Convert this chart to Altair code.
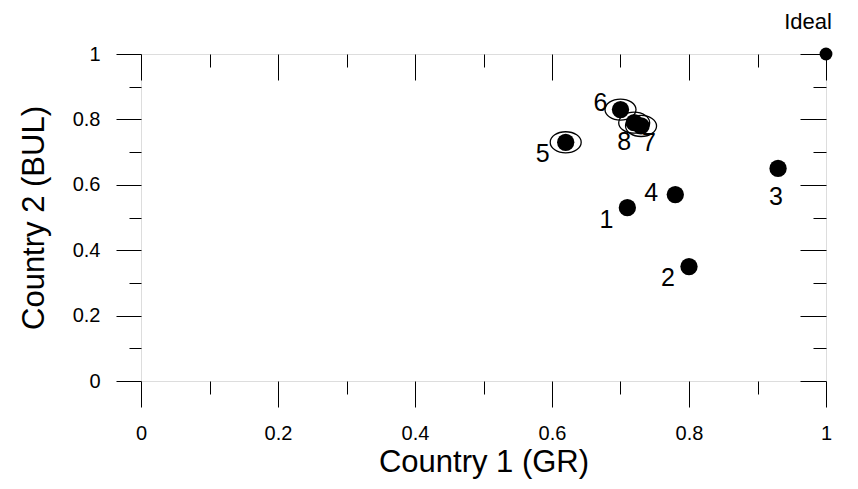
import altair as alt
import pandas as pd

# ---- data ----
labels = ["1", "2", "3", "4", "5", "6", "7", "8"]
country1_gr = [0.71, 0.80, 0.93, 0.78, 0.62, 0.70, 0.73, 0.72]
country2_bul = [0.53, 0.35, 0.65, 0.57, 0.73, 0.83, 0.78, 0.79]
with_ellipse = ["5", "6", "7", "8"]
ideal_label = ["Ideal"]
ideal_gr = [1.0]
ideal_bul = [1.0]
major_ticks = [0.0, 0.2, 0.4, 0.6, 0.8, 1.0]
minor_ticks = [0.1, 0.3, 0.5, 0.7, 0.9]
tick_labels = ["0", "0.2", "0.4", "0.6", "0.8", "1"]

df = pd.DataFrame({"label": labels, "gr": country1_gr, "bul": country2_bul})
df_ideal = pd.DataFrame({"label": ideal_label, "gr": ideal_gr, "bul": ideal_bul})

# ---- styling ----
FONT = "Liberation Sans"
ELLIPSE = "M -1 0 A 1 0.68 0 1 1 1 0 A 1 0.68 0 1 1 -1 0 Z"
label_offsets = {  # (dx, dy) of each point label, in pixels
    "1": (-21, 12), "2": (-21, 11), "3": (-2, 29), "4": (-24, -2),
    "5": (-23, 12), "6": (-20, -7), "7": (8, 17), "8": (-10, 19),
}
label_expr = "[" + ",".join(f"'{t}'" for t in tick_labels) + "][round(datum.value*5)]"

xs = alt.Scale(domain=[0, 1], nice=False, zero=False)
ys = alt.Scale(domain=[0, 1], nice=False, zero=False)


def ax(orient, values, size, offset=0, with_labels=False, title=None, **kw):
    opts = dict(
        orient=orient, values=values, tickSize=size, offset=offset,
        domain=False, grid=False, ticks=True, tickColor="black", tickWidth=1,
        labels=with_labels, title=title,
    )
    if with_labels:
        opts.update(
            labelFont=FONT, labelFontSize=20, labelColor="black",
            labelPadding=16, labelExpr=label_expr, labelFlush=False,
            labelOverlap=False,
        )
    if title is not None:
        opts.update(titleFont=FONT, titleFontSize=31, titleFontWeight="normal",
                    titleColor="black")
    opts.update(kw)
    return alt.Axis(**opts)


bottom_major = ax("bottom", major_ticks, 26, with_labels=True,
                  title="Country 1 (GR)", titleY=81, titleBaseline="middle")
bottom_minor = ax("bottom", minor_ticks, 13)
left_major = ax("left", major_ticks, 25, with_labels=True,
                title="Country 2 (BUL)", titleX=-107, titleBaseline="middle")
left_minor = ax("left", minor_ticks, 12)
top_major = ax("top", major_ticks, 26, offset=-26)
top_minor = ax("top", minor_ticks, 13, offset=-13)
right_major = ax("right", major_ticks, 26, offset=-26)
right_minor = ax("right", minor_ticks, 13, offset=-13)

base = alt.Chart(df)

ellipses = base.transform_filter(
    alt.FieldOneOfPredicate(field="label", oneOf=with_ellipse)
).mark_point(
    shape=ELLIPSE, size=961, filled=False, stroke="black", strokeWidth=1.3, opacity=1
).encode(
    x=alt.X("gr:Q", scale=xs, axis=bottom_major),
    y=alt.Y("bul:Q", scale=ys, axis=left_major),
)

dots = base.mark_circle(size=300, color="black", opacity=1).encode(
    x=alt.X("gr:Q", scale=xs, axis=bottom_minor),
    y=alt.Y("bul:Q", scale=ys, axis=left_minor),
)

ideal_dot = alt.Chart(df_ideal).mark_circle(size=165, color="black", opacity=1).encode(
    x=alt.X("gr:Q", scale=xs, axis=top_major),
    y=alt.Y("bul:Q", scale=ys, axis=right_major),
)

ideal_text = alt.Chart(df_ideal).mark_text(
    font=FONT, fontSize=22, color="black", dx=-18, dy=-32,
    align="center", baseline="middle"
).encode(
    x=alt.X("gr:Q", scale=xs, axis=top_minor),
    y=alt.Y("bul:Q", scale=ys, axis=right_minor),
    text="label:N",
)

label_layers = []
for lab in labels:
    dx, dy = label_offsets[lab]
    label_layers.append(
        base.transform_filter(alt.datum.label == lab).mark_text(
            font=FONT, fontSize=25, color="black", dx=dx, dy=dy,
            align="center", baseline="middle",
        ).encode(
            x=alt.X("gr:Q", scale=xs, axis=None),
            y=alt.Y("bul:Q", scale=ys, axis=None),
            text="label:N",
        )
    )

chart = alt.layer(
    ellipses, dots, ideal_dot, ideal_text, *label_layers
).resolve_axis(
    x="independent", y="independent"
).properties(
    width=685, height=327,
    autosize=alt.AutoSizeParams(type="none"),
    padding={"left": 133, "top": 46, "right": 24, "bottom": 100},
).configure_view(
    stroke="black", strokeWidth=1
).configure(background="white")

chart.save("out.html", embed_options={"renderer": "svg", "actions": False})
